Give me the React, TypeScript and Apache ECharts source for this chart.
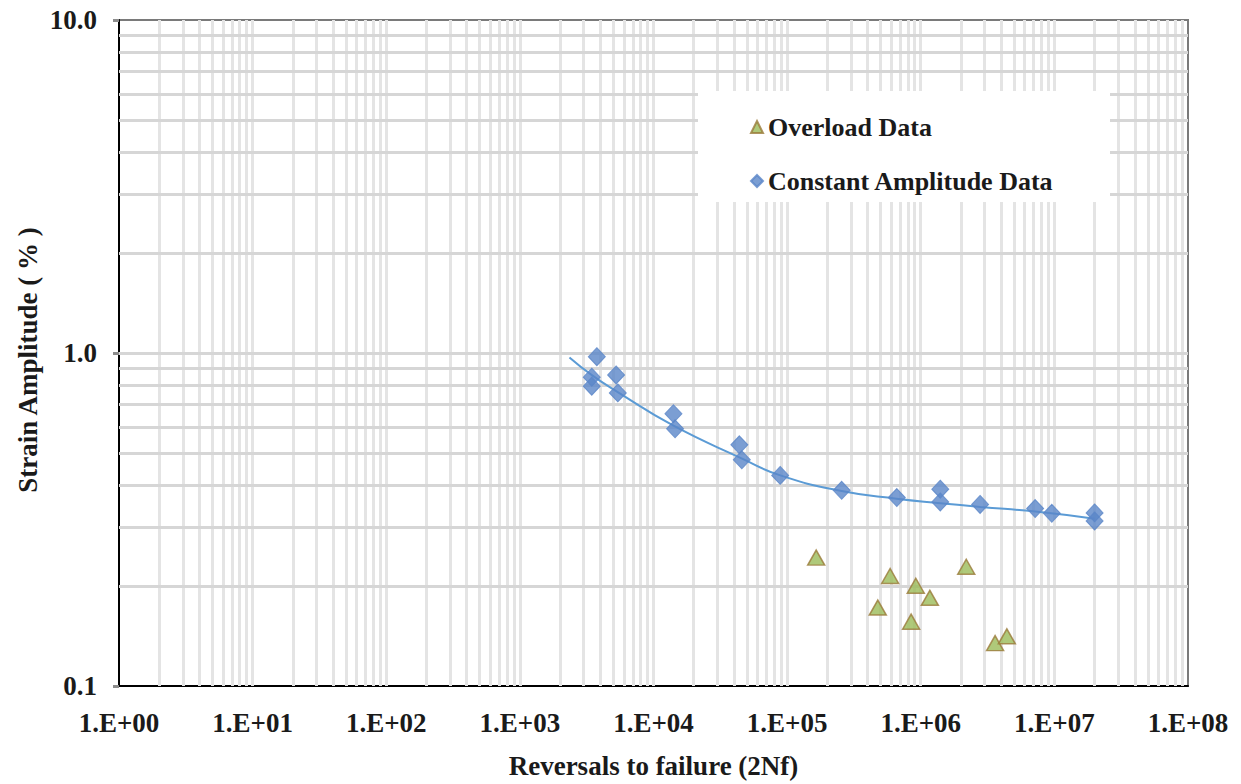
import React, { useEffect, useRef } from "react";
import * as echarts from "echarts";

// Tick labels / axis ranges
const xDecades = [0, 1, 2, 3, 4, 5, 6, 7, 8];
const yMin = 0.1;
const yMax = 10;

// Constant amplitude data: [reversals, strain %]
const constantN = [3766, 3451, 3451, 5250, 5405, 14100, 14500, 43900, 45800, 88700, 256000, 662000, 1400000, 1400000, 2780000, 7180000, 9570000, 20000000, 20000000];
const constantStrain = [0.975, 0.846, 0.795, 0.859, 0.759, 0.657, 0.592, 0.53, 0.478, 0.429, 0.387, 0.368, 0.39, 0.357, 0.351, 0.341, 0.33, 0.331, 0.313];

// Overload data
const overloadN = [165000, 590000, 477000, 918000, 1170000, 847000, 2190000, 3600000, 4410000];
const overloadStrain = [0.243, 0.214, 0.172, 0.2, 0.184, 0.156, 0.228, 0.1345, 0.141];

// Fit curve
const fitN = [2350, 3500, 5400, 14000, 46000, 89000, 256000, 660000, 1400000, 2800000, 7200000, 20000000];
const fitStrain = [0.97, 0.855, 0.763, 0.606, 0.482, 0.429, 0.385, 0.365, 0.354, 0.345, 0.334, 0.318];

// Grid line positions (log minor ticks)
const mults = [1, 2, 3, 4, 5, 6, 7, 8, 9];
const xGridVals: number[] = [];
xDecades.slice(0, 8).forEach((d) => mults.forEach((m) => { const v = m * Math.pow(10, d); if (v > 1) xGridVals.push(v); }));
const yGridVals: number[] = [];
[-1, 0].forEach((d) => mults.forEach((m) => { const v = m * Math.pow(10, d); if (v > yMin + 1e-9) yGridVals.push(Number(v.toFixed(2))); }));

const FONT = "'Liberation Serif', 'Times New Roman', serif";

export default function App() {
  const ref = useRef<HTMLDivElement>(null);
  useEffect(() => {
    const chart = echarts.init(ref.current!, null, { renderer: "svg" });
    const zip = (a: number[], b: number[]) => a.map((v, i) => [v, b[i]]);
    chart.setOption({
      animation: false,
      backgroundColor: "#ffffff",
      grid: {
        left: 119,
        top: 20,
        right: 53,
        bottom: 96,
        show: true,
        borderColor: "#7a7a7a",
        borderWidth: 2,
        backgroundColor: "transparent",
      },
      graphic: [
        {
          type: "text",
          x: 28,
          y: 360,
          rotation: Math.PI / 2,
          style: {
            text: "Strain Amplitude ( % )",
            fontFamily: FONT,
            fontWeight: "bold",
            fontSize: 27,
            fill: "#1a1a1a",
            align: "center",
            verticalAlign: "middle",
          },
        },
      ],
      legend: {
        data: ["Overload Data", "Constant Amplitude Data"],
        orient: "vertical",
        left: 698,
        top: 91,
        padding: [23, 56, 8, 52],
        itemGap: 28,
        itemWidth: 12,
        itemHeight: 12,
        itemTextGap: 7,
        backgroundColor: "#ffffff",
        z: 10,
        textStyle: {
          fontFamily: FONT,
          fontWeight: "bold",
          fontSize: 26,
          lineHeight: 26,
          color: "#1a1a1a",
        },
      },
      xAxis: {
        type: "log",
        logBase: 10,
        min: 1,
        max: 1e8,
        splitNumber: 8,
        name: "Reversals to failure (2Nf)",
        nameLocation: "middle",
        nameGap: 66,
        nameTextStyle: { fontFamily: FONT, fontWeight: "bold", fontSize: 27, color: "#1a1a1a" },
        axisLine: { show: true, lineStyle: { color: "#000000", width: 2 } },
        axisTick: { show: false },
        splitLine: { show: false },
        axisLabel: {
          margin: 23,
          fontFamily: FONT,
          fontWeight: "bold",
          fontSize: 27,
          color: "#1a1a1a",
          formatter: (v: number) => "1.E+" + String(Math.round(Math.log10(v))).padStart(2, "0"),
        },
      },
      yAxis: {
        type: "log",
        logBase: 10,
        min: yMin,
        max: yMax,
        axisLine: { show: true, lineStyle: { color: "#000000", width: 2 } },
        axisTick: { show: true, length: 6, lineStyle: { color: "#8c8c8c", width: 3 } },
        splitLine: { show: false },
        axisLabel: {
          margin: 22,
          fontFamily: FONT,
          fontWeight: "bold",
          fontSize: 27,
          color: "#1a1a1a",
          formatter: (v: number) => v.toFixed(1),
        },
      },
      series: [
        {
          name: "vgrid",
          type: "line",
          data: [],
          z: 1,
          silent: true,
          markLine: {
            silent: true,
            z: 1,
            symbol: ["none", "none"],
            label: { show: false },
            animation: false,
            lineStyle: { type: "solid", color: "#e4e4e4", width: 3 },
            data: xGridVals.map((v) => ({ xAxis: v })),
          },
        },
        {
          name: "hgrid",
          type: "line",
          data: [],
          z: 1,
          silent: true,
          markLine: {
            silent: true,
            z: 1,
            symbol: ["none", "none"],
            label: { show: false },
            animation: false,
            lineStyle: { type: "solid", color: "#d6d6d6", width: 3 },
            data: yGridVals.map((v) => ({ yAxis: v })),
          },
        },
        {
          name: "fit",
          type: "line",
          data: zip(fitN, fitStrain),
          smooth: true,
          showSymbol: false,
          symbol: "none",
          z: 3,
          lineStyle: { color: "#5b9bd5", width: 2 },
        },
        {
          name: "Overload Data",
          type: "scatter",
          symbol: "triangle",
          symbolSize: [17, 15],
          z: 4,
          itemStyle: { color: "#9bbb59", borderColor: "#9a7b3a", borderWidth: 1.5 },
          data: zip(overloadN, overloadStrain),
        },
        {
          name: "Constant Amplitude Data",
          type: "scatter",
          symbol: "diamond",
          symbolSize: [17, 18],
          z: 4,
          itemStyle: { color: "#5a86c8", borderColor: "#5a86c8", borderWidth: 1 },
          data: zip(constantN, constantStrain),
        },
      ],
    });
    return () => chart.dispose();
  }, []);
  return (
    <div
      ref={ref}
      style={{ position: "absolute", left: 0, top: 0, width: 1241, height: 784, background: "#fff" }}
    />
  );
}
